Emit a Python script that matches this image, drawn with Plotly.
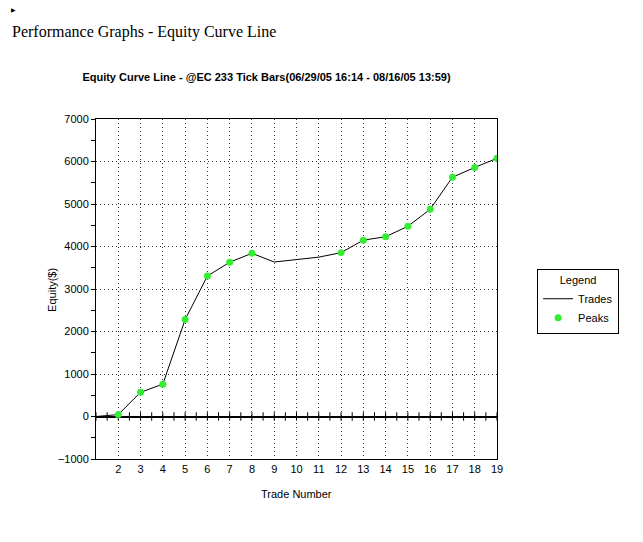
import numpy as np
import plotly.graph_objects as go

# trade number vs equity
trades = [1, 2, 3, 4, 5, 6, 7, 8, 9, 10, 11, 12, 13, 14, 15, 16, 17, 18, 19]
equity = [0, 45, 570, 760, 2280, 3305, 3630, 3840, 3635, 3700, 3750, 3855,
          4150, 4230, 4475, 4875, 5630, 5860, 6075]

# trades that set a new equity high
peak_trades = [2, 3, 4, 5, 6, 7, 8, 12, 13, 14, 15, 16, 17, 18, 19]
peak_equity = [45, 570, 760, 2280, 3305, 3630, 3840, 3855,
               4150, 4230, 4475, 4875, 5630, 5860, 6075]

x_ticks = list(range(2, 20))
y_ticks = [-1000, 0, 1000, 2000, 3000, 4000, 5000, 6000, 7000]

fig = go.Figure()

# small tick crosses on the zero line, every half trade
half = np.arange(1, 19.01, 0.5)
fig.add_trace(go.Scatter(
    x=half, y=[0] * len(half), mode='markers',
    marker=dict(symbol='line-ns-open', size=6, color='black', line=dict(width=1)),
    showlegend=False, hoverinfo='skip'
))

fig.add_trace(go.Scatter(
    x=trades, y=equity, mode='lines', name='Trades',
    line=dict(color='black', width=1)
))
fig.add_trace(go.Scatter(
    x=peak_trades, y=peak_equity, mode='markers', name='Peaks',
    marker=dict(color='#33ee33', size=7)
))

fig.update_layout(
    width=643, height=542,
    paper_bgcolor='white', plot_bgcolor='white',
    margin=dict(l=88, r=154, t=111, b=91),
    font=dict(family='Arial, "Liberation Sans", sans-serif', size=11, color='black'),
    title=dict(text='<b>Equity Curve Line - @EC 233 Tick Bars(06/29/05 16:14 - 08/16/05 13:59)</b>',
               x=0.402, xanchor='center', y=0.873, yanchor='middle',
               font=dict(size=11, color='black')),
    xaxis=dict(
        range=[1, 19], tickvals=x_ticks, ticks='', showline=True, linecolor='black',
        linewidth=1, mirror=True, showgrid=True, gridcolor='#333', griddash='1px,3px',
        gridwidth=1, zeroline=False
    ),
    yaxis=dict(
        range=[-1000, 7000], tickvals=y_ticks, ticks='outside', ticklen=4,
        tickcolor='black', showline=True, linecolor='black', linewidth=1, mirror=True,
        showgrid=True, gridcolor='#333', griddash='1px,3px', gridwidth=1,
        zeroline=True, zerolinecolor='black', zerolinewidth=1.5,
        minor=dict(dtick=500, tick0=-1000, ticks='outside', ticklen=4,
                   tickcolor='black', showgrid=False)
    ),
    legend=dict(
        x=1.1, xanchor='left', y=0.559, yanchor='top',
        bordercolor='black', borderwidth=1, bgcolor='white',
        title=dict(text='Legend', side='top center', font=dict(size=11)),
        font=dict(size=11), tracegroupgap=0
    ),
)

fig.add_annotation(xref='paper', yref='paper', x=-0.13, y=0.497,
                   text='Equity($)', textangle=-90, showarrow=False,
                   font=dict(size=11))
fig.add_annotation(xref='paper', yref='paper', x=0.5, y=-0.127,
                   text='Trade Number', showarrow=False, font=dict(size=11))
fig.add_annotation(xref='paper', yref='paper', x=-0.215, y=1.288, xanchor='left',
                   text='Performance Graphs - Equity Curve Line', showarrow=False,
                   font=dict(family='"Liberation Serif", "Times New Roman", serif', size=16))
fig.add_annotation(xref='paper', yref='paper', x=-0.217, y=1.305, xanchor='left',
                   yanchor='bottom', text='▶', showarrow=False, font=dict(size=6))

fig.write_html("out.html")
